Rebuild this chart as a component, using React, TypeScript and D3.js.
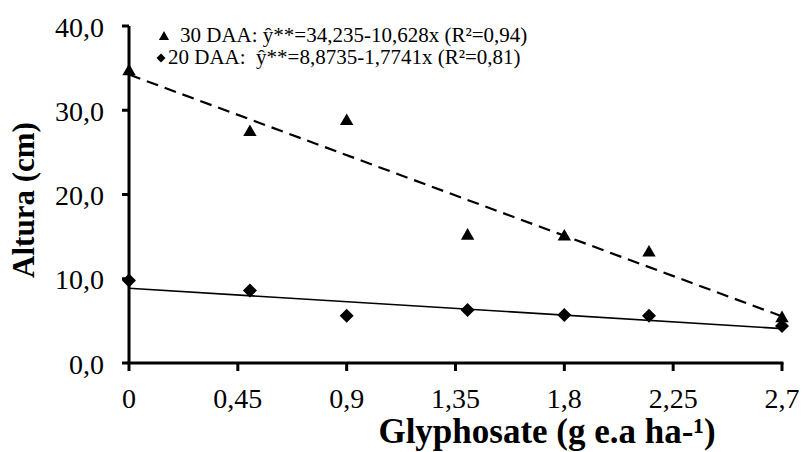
import React from "react";
import * as d3 from "d3";

const doses = [0, 0.5, 0.9, 1.4, 1.8, 2.15, 2.7];
const daa30 = [34.6, 27.4, 28.7, 15.1, 15.0, 13.1, 5.3];
const daa20 = [9.8, 8.6, 5.6, 6.3, 5.7, 5.6, 4.4];
const fit30 = { a: 34.235, b: -10.628 };
const fit20 = { a: 8.8735, b: -1.7741 };
const xTicks = [0, 0.45, 0.9, 1.35, 1.8, 2.25, 2.7];
const xTickLabels = ["0", "0,45", "0,9", "1,35", "1,8", "2,25", "2,7"];
const yTicks = [0, 10, 20, 30, 40];
const yTickLabels = ["0,0", "10,0", "20,0", "30,0", "40,0"];
const legend30 = "30 DAA: \u0177**=34,235-10,628x (R\u00b2=0,94)";
const legend20 = "20 DAA:  \u0177**=8,8735-1,7741x (R\u00b2=0,81)";
const xTitle = "Glyphosate (g e.a ha-\u00b9)";
const yTitle = "Altura (cm)";

const W = 803;
const H = 452;
const left = 129;
const right = 782;
const top = 26;
const bottom = 363;
const font = '"Liberation Serif", "DejaVu Serif", serif';

export default function App() {
  const x = d3.scaleLinear().domain([0, 2.7]).range([left, right]);
  const y = d3.scaleLinear().domain([0, 40]).range([bottom, top]);
  const fitLine = (f: { a: number; b: number }) =>
    d3.line<number>().x((d) => x(d)).y((d) => y(f.a + f.b * d))([0, 2.7]) || "";
  const tri = d3.symbol().type(d3.symbolTriangle).size(78)() || "";
  const dia = (s: number) => `M0,${-s}L${s},0L0,${s}L${-s},0Z`;

  return (
    <svg
      width={W}
      height={H}
      style={{ position: "absolute", left: 0, top: 0, background: "#fff", fontFamily: font }}
    >
      <rect width={W} height={H} fill="#fff" />
      <path d={fitLine(fit30)} stroke="#000" strokeWidth={2.2} strokeDasharray="12,7" fill="none" />
      <path d={fitLine(fit20)} stroke="#000" strokeWidth={1.6} fill="none" />
      <line x1={left} x2={left} y1={top} y2={bottom} stroke="#000" strokeWidth={3} />
      <line x1={left - 1.5} x2={right + 1.5} y1={bottom} y2={bottom} stroke="#000" strokeWidth={3} />
      {yTicks.map((t, i) => (
        <g key={"y" + t}>
          <line x1={left - 7} x2={left} y1={y(t)} y2={y(t)} stroke="#000" strokeWidth={3} />
          <text x={104} y={y(t)} dy="0.38em" textAnchor="end" fontSize={28}>
            {yTickLabels[i]}
          </text>
        </g>
      ))}
      {xTicks.map((t, i) => (
        <g key={"x" + t}>
          <line x1={x(t)} x2={x(t)} y1={bottom} y2={bottom + 8} stroke="#000" strokeWidth={3} />
          <text x={x(t)} y={408} textAnchor="middle" fontSize={28}>
            {xTickLabels[i]}
          </text>
        </g>
      ))}
      {doses.map((d, i) => (
        <path key={"t" + i} d={tri} transform={`translate(${x(d)},${y(daa30[i])})`} fill="#000" />
      ))}
      {doses.map((d, i) => (
        <path key={"d" + i} d={dia(7)} transform={`translate(${x(d)},${y(daa20[i])})`} fill="#000" />
      ))}
      <text x={547} y={443} textAnchor="middle" fontSize={35} fontWeight="bold">
        {xTitle}
      </text>
      <text transform={`translate(34,200) rotate(-90)`} textAnchor="middle" fontSize={31} fontWeight="bold">
        {yTitle}
      </text>
      <path d={d3.symbol().type(d3.symbolTriangle).size(45)() || ""} transform="translate(164,37)" fill="#000" />
      <text x={180} y={42} fontSize={21}>
        {legend30}
      </text>
      <path d={dia(4.5)} transform="translate(161,58)" fill="#000" />
      <text x={168} y={64} fontSize={21} style={{ whiteSpace: "pre" }}>
        {legend20}
      </text>
    </svg>
  );
}
